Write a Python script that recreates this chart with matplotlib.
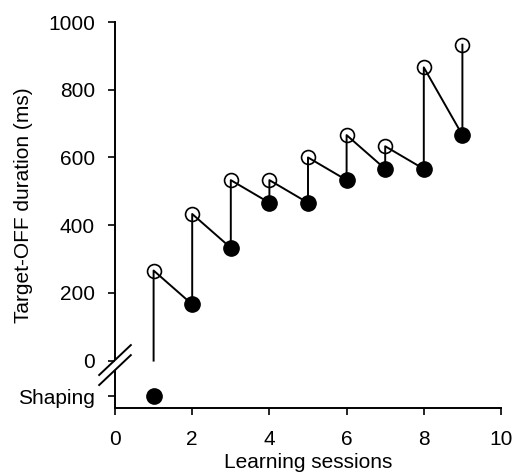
import matplotlib.pyplot as plt
from matplotlib.lines import Line2D

plt.rcParams['font.family'] = ['Liberation Sans', 'DejaVu Sans']

# session numbers and durations (ms)
sessions = [1, 2, 3, 4, 5, 6, 7, 8, 9]
start_vals = [266, 433, 533, 533, 600, 666, 633, 866, 933]   # open circles
end_vals = [None, 166, 333, 466, 466, 533, 566, 566, 666]    # filled circles (session 1 = shaping)
shaping_session = 1
y_ticks = [0, 200, 400, 600, 800, 1000]
x_ticks = [0, 2, 4, 6, 8, 10]

SHAPING_Y = -105   # where the "Shaping" row sits below the break

fig = plt.figure(figsize=(5.19, 4.75), dpi=100)
ax = fig.add_axes([115 / 519, 1 - 408 / 475, 386 / 519, 386 / 475])

# sawtooth path: start at 0 for session 1, then end(k) -> start(k)
px = [sessions[0], sessions[0]]
py = [0, start_vals[0]]
for s, a, b in zip(sessions[1:], end_vals[1:], start_vals[1:]):
    px += [s, s]
    py += [a, b]

ax.plot(sessions, start_vals, 'o', ms=10, mfc='white', mec='black', mew=1.2, zorder=2)
ax.plot(sessions[1:], end_vals[1:], 'o', ms=11, color='black', zorder=2)
ax.plot([shaping_session], [SHAPING_Y], 'o', ms=11, color='black', zorder=2)
ax.plot(px, py, color='black', lw=1.4, zorder=3)

ax.set_xlim(0, 10)
ax.set_ylim(-140, 1000)
ax.set_xticks(x_ticks)
ax.set_yticks([SHAPING_Y] + y_ticks)
ax.set_yticklabels(['Shaping'] + [str(v) for v in y_ticks])

for sp in ['top', 'right']:
    ax.spines[sp].set_visible(False)
for sp in ['left', 'bottom']:
    ax.spines[sp].set_linewidth(1.4)
ax.spines['left'].set_bounds(5, 1000)
# lower piece of the broken y axis
ax.plot([0, 0], [-140, -28], color='black', lw=1.4, clip_on=False, solid_capstyle='butt')

# break marks
for dy in [0.0, -0.026]:
    ax.add_line(Line2D([-0.041, 0.041], [0.0855 + dy, 0.163 + dy], transform=ax.transAxes,
                       color='black', lw=1.4, clip_on=False))

ax.tick_params(axis='both', direction='out', length=5, width=1.2, labelsize=15, color='black')
ax.tick_params(axis='y', pad=9.5)
ax.tick_params(axis='x', pad=11)

ax.set_xlabel('Learning sessions', fontsize=15, labelpad=3)
ax.set_ylabel('Target-OFF duration (ms)', fontsize=15)
ax.yaxis.set_label_coords(-0.212, 0.526)

plt.savefig('out.png', dpi=100)
